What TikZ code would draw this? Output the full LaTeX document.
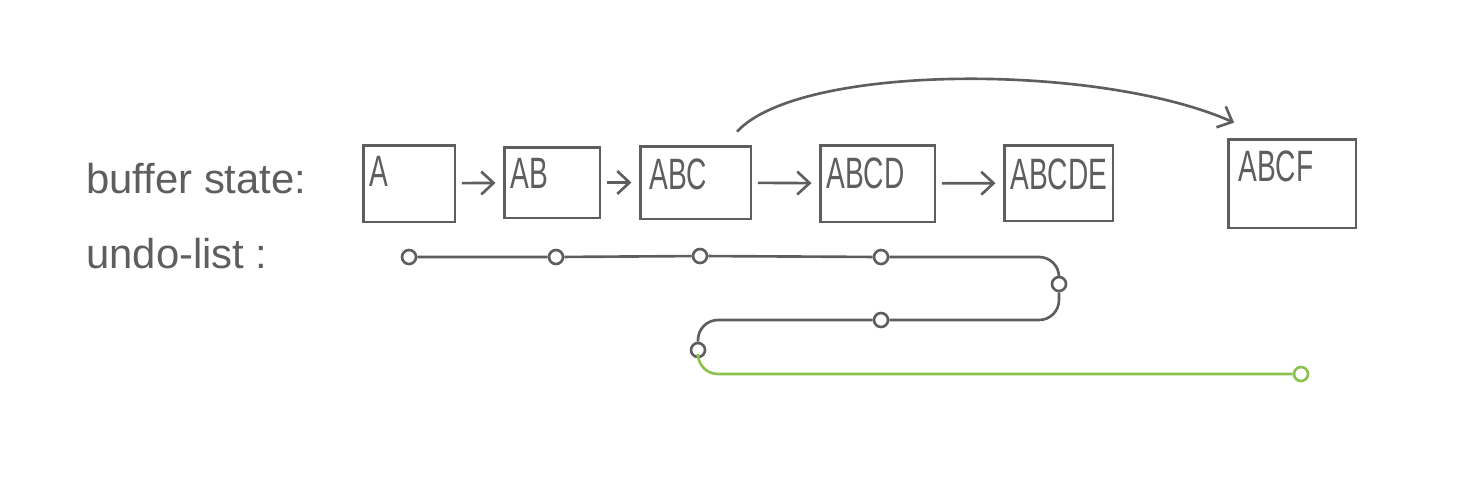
\documentclass[tikz,border=0pt]{standalone}
\usepackage{fontspec}
\setmainfont{Liberation Sans}
\newfontfamily\handfont[FakeStretch=0.64]{Liberation Sans}
\usepackage{tikz}
\usetikzlibrary{arrows.meta, positioning, calc}
\definecolor{pencil}{HTML}{5E5E5E}
\definecolor{leaf}{HTML}{8BC34A}

\begin{document}
\begin{tikzpicture}[x=0.02cm, y=-0.02cm, color=pencil, line width=1.5pt,
        box/.style={draw, line width=1.7pt, inner sep=0pt},
        lbl/.style={anchor=north west, inner sep=0pt, font=\handfont\fontsize{25}{28}\selectfont},
        side/.style={anchor=base west, inner sep=0pt, font=\fontsize{23.8}{28}\selectfont},
        dot/.style={circle, draw, inner sep=0pt, minimum size=0.28cm},
        arr/.style={-{Straight Barb[length=7pt, width=13pt]}, shorten >= 4pt, shorten <= 3pt}]
        \useasboundingbox (0,0) rectangle (1460,484);

        \node[side] (bs) at (85,193) {buffer state:};
        \node[side] (ul) at (85,268) {undo-list :};

        \node[box, minimum width=1.84cm, minimum height=1.54cm] (a) at (409,183.5) {};
        \node[box, minimum width=1.92cm, minimum height=1.42cm] (ab) at (552,182.5) {};
        \node[box, minimum width=2.22cm, minimum height=1.46cm] (abc) at (695.5,182.5) {};
        \node[box, minimum width=2.30cm, minimum height=1.54cm] (abcd) at (877.5,183.5) {};
        \node[box, minimum width=2.18cm, minimum height=1.52cm] (abcde) at (1058.5,183) {};
        \node[box, minimum width=2.56cm, minimum height=1.78cm] (abcf) at (1292,183.5) {};

        \node[lbl] (ta) at (368,155) {A};
        \node[lbl] (tab) at (509,157) {AB};
        \node[lbl] (tabc) at (648,158) {ABC};
        \node[lbl] (tabcd) at (825,157) {ABCD};
        \node[lbl] (tabcde) at (1009,158) {ABCDE};
        \node[lbl] (tabcf) at (1237,150) {ABCF};

        \path[arr] (a) edge (ab)
                   (ab) edge (abc)
                   (abc) edge (abcd)
                   (abcd) edge (abcde);
        \draw[arr] ($(abc.north east)+(-19,-9)$) .. controls (800,63) and (1100,63) .. ($(abcf.north west)+(14,-12)$);

        % undo list
        \foreach \n/\x/\y in {u1/409/257, u2/556/257, u3/700/256, u4/881/257, u5/1059/284, u6/881/320, u7/698/350}
            \node[dot] (\n) at (\x,\y) {};
        \node[dot, leaf] (u8) at (1301,374) {};

        \draw[rounded corners=0.4cm] (u1) -- (u2) -- (u3) -- (u4) -| (u5) |- (u6) -| (u7);
        \draw[leaf, rounded corners=0.4cm] (u7) |- (u8);
    \end{tikzpicture}
\end{document}
